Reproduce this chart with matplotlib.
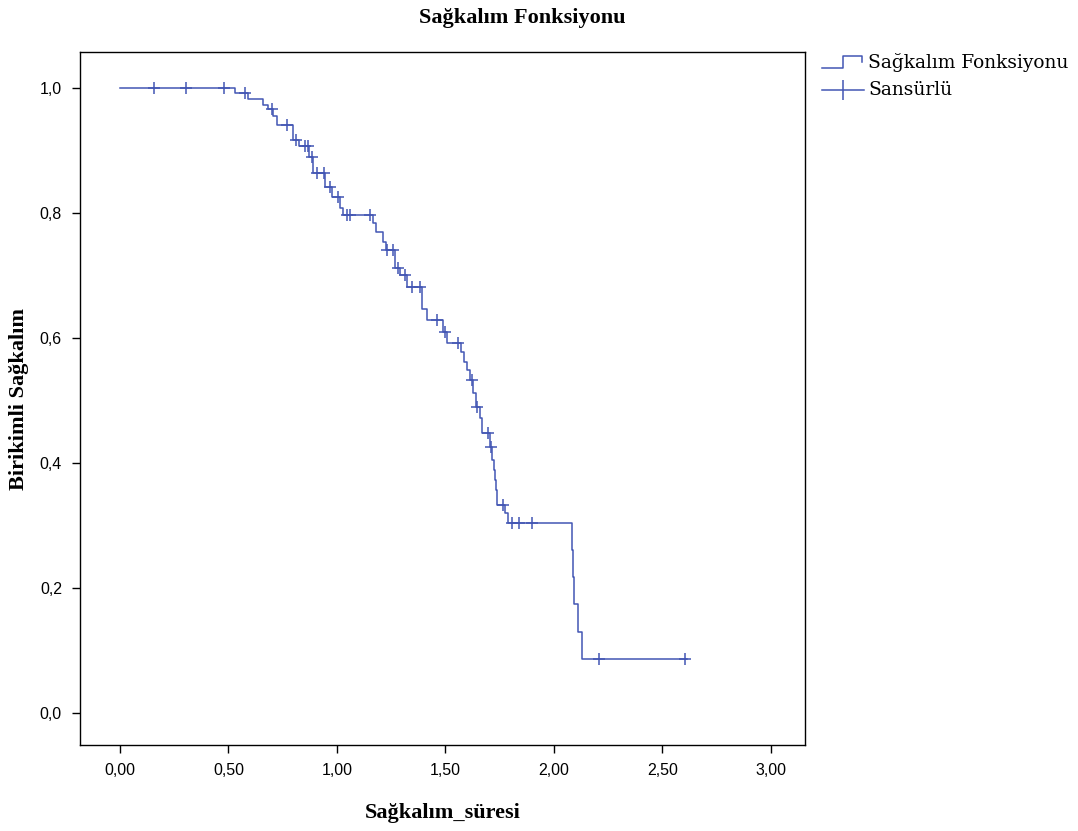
import matplotlib
matplotlib.use("Agg")
import matplotlib.pyplot as plt
from matplotlib.lines import Line2D

# Kaplan-Meier step data (time of event, survival after the event)
event_times = [0.530, 0.590, 0.659, 0.682, 0.705, 0.724, 0.797, 0.825, 0.871, 0.889,
               0.945, 0.977, 1.014, 1.028, 1.166, 1.180, 1.212, 1.226, 1.267, 1.290,
               1.323, 1.392, 1.415, 1.488, 1.507, 1.571, 1.585, 1.599, 1.613, 1.627,
               1.641, 1.659, 1.668, 1.705, 1.714, 1.724, 1.728, 1.733, 1.737, 1.774,
               1.788, 2.083, 2.086, 2.092, 2.111, 2.129]
event_surv = [0.992, 0.982, 0.973, 0.966, 0.955, 0.941, 0.917, 0.907, 0.890, 0.864,
              0.842, 0.826, 0.808, 0.797, 0.784, 0.770, 0.754, 0.741, 0.712, 0.701,
              0.682, 0.646, 0.629, 0.610, 0.592, 0.578, 0.562, 0.549, 0.533, 0.512,
              0.490, 0.472, 0.448, 0.426, 0.405, 0.389, 0.373, 0.357, 0.333, 0.320,
              0.304, 0.261, 0.218, 0.174, 0.130, 0.087]
end_time = 2.613

# Censored observations (time, survival level)
cens_times = [0.157, 0.304, 0.479, 0.576, 0.700, 0.770, 0.811, 0.853, 0.866, 0.885,
              0.908, 0.940, 0.968, 1.005, 1.046, 1.060, 1.152, 1.230, 1.258, 1.281,
              1.313, 1.346, 1.382, 1.461, 1.498, 1.558, 1.622, 1.645, 1.696, 1.710,
              1.765, 1.806, 1.839, 1.899, 2.207, 2.604]
cens_surv = [1.000, 1.000, 1.000, 0.992, 0.966, 0.941, 0.917, 0.907, 0.907, 0.890,
             0.864, 0.864, 0.842, 0.826, 0.797, 0.797, 0.797, 0.741, 0.741, 0.712,
             0.701, 0.682, 0.682, 0.629, 0.610, 0.592, 0.533, 0.490, 0.448, 0.426,
             0.333, 0.304, 0.304, 0.304, 0.087, 0.087]

x_ticks = [0.0, 0.5, 1.0, 1.5, 2.0, 2.5, 3.0]
x_labels = ["0,00", "0,50", "1,00", "1,50", "2,00", "2,50", "3,00"]
y_ticks = [0.0, 0.2, 0.4, 0.6, 0.8, 1.0]
y_labels = ["0,0", "0,2", "0,4", "0,6", "0,8", "1,0"]

color = "#4356B4"
serif = ["Liberation Serif", "DejaVu Serif"]

fig = plt.figure(figsize=(10.78, 8.31), dpi=100)
ax = fig.add_axes([80/1078, 1-745/831, 725/1078, 693/831])

xs = [0.0] + event_times + [end_time]
ys = [1.0] + event_surv + [event_surv[-1]]
ax.step(xs, ys, where="post", color=color, lw=1.1)
ax.plot(cens_times, cens_surv, linestyle="none", marker="+", color=color,
        markersize=9, markeredgewidth=1.1)

ax.set_xlim(-0.184, 3.157)
ax.set_ylim(-0.051, 1.058)
ax.set_xticks(x_ticks)
ax.set_xticklabels(x_labels, fontfamily="Liberation Sans", fontsize=11.5)
ax.set_yticks(y_ticks)
ax.set_yticklabels(y_labels, fontfamily="Liberation Sans", fontsize=11.5)
ax.tick_params(direction="out", length=6, width=1, color="black", pad=7)
for s in ax.spines.values():
    s.set_linewidth(1.0)

ax.set_xlabel("Sağkalım_süresi", fontfamily=serif, fontweight="bold", fontsize=16, labelpad=18)
ax.set_ylabel("Birikimli Sağkalım", fontfamily=serif, fontweight="bold", fontsize=16, labelpad=8)
fig.text(522/1078, 1-18/831, "Sağkalım Fonksiyonu", fontfamily=serif, fontweight="bold",
         fontsize=16, ha="center", va="center")

# manual legend
lx0, lx1 = 822/1078, 864/1078
y1 = 1-62/831
y2 = 1-90/831
sx = [822/1078, 843/1078, 843/1078, 862/1078, 862/1078]
sy = [1-68/831, 1-68/831, 1-56/831, 1-56/831, 1-62/831]
fig.add_artist(Line2D(sx, sy, color=color, lw=1.1, transform=fig.transFigure))
fig.add_artist(Line2D([lx0, lx1], [y2, y2], color=color, lw=1.1, transform=fig.transFigure))
fig.add_artist(Line2D([843/1078], [y2], marker="|", markersize=14, color=color,
                      markeredgewidth=1.1, transform=fig.transFigure))
fig.text(868/1078, y1, "Sağkalım Fonksiyonu", fontfamily=["DejaVu Serif"], fontsize=13.4,
         ha="left", va="center")
fig.text(868/1078, y2, "Sansürlü", fontfamily=["DejaVu Serif"], fontsize=13.4,
         ha="left", va="center")

fig.savefig("out.png", dpi=100)
